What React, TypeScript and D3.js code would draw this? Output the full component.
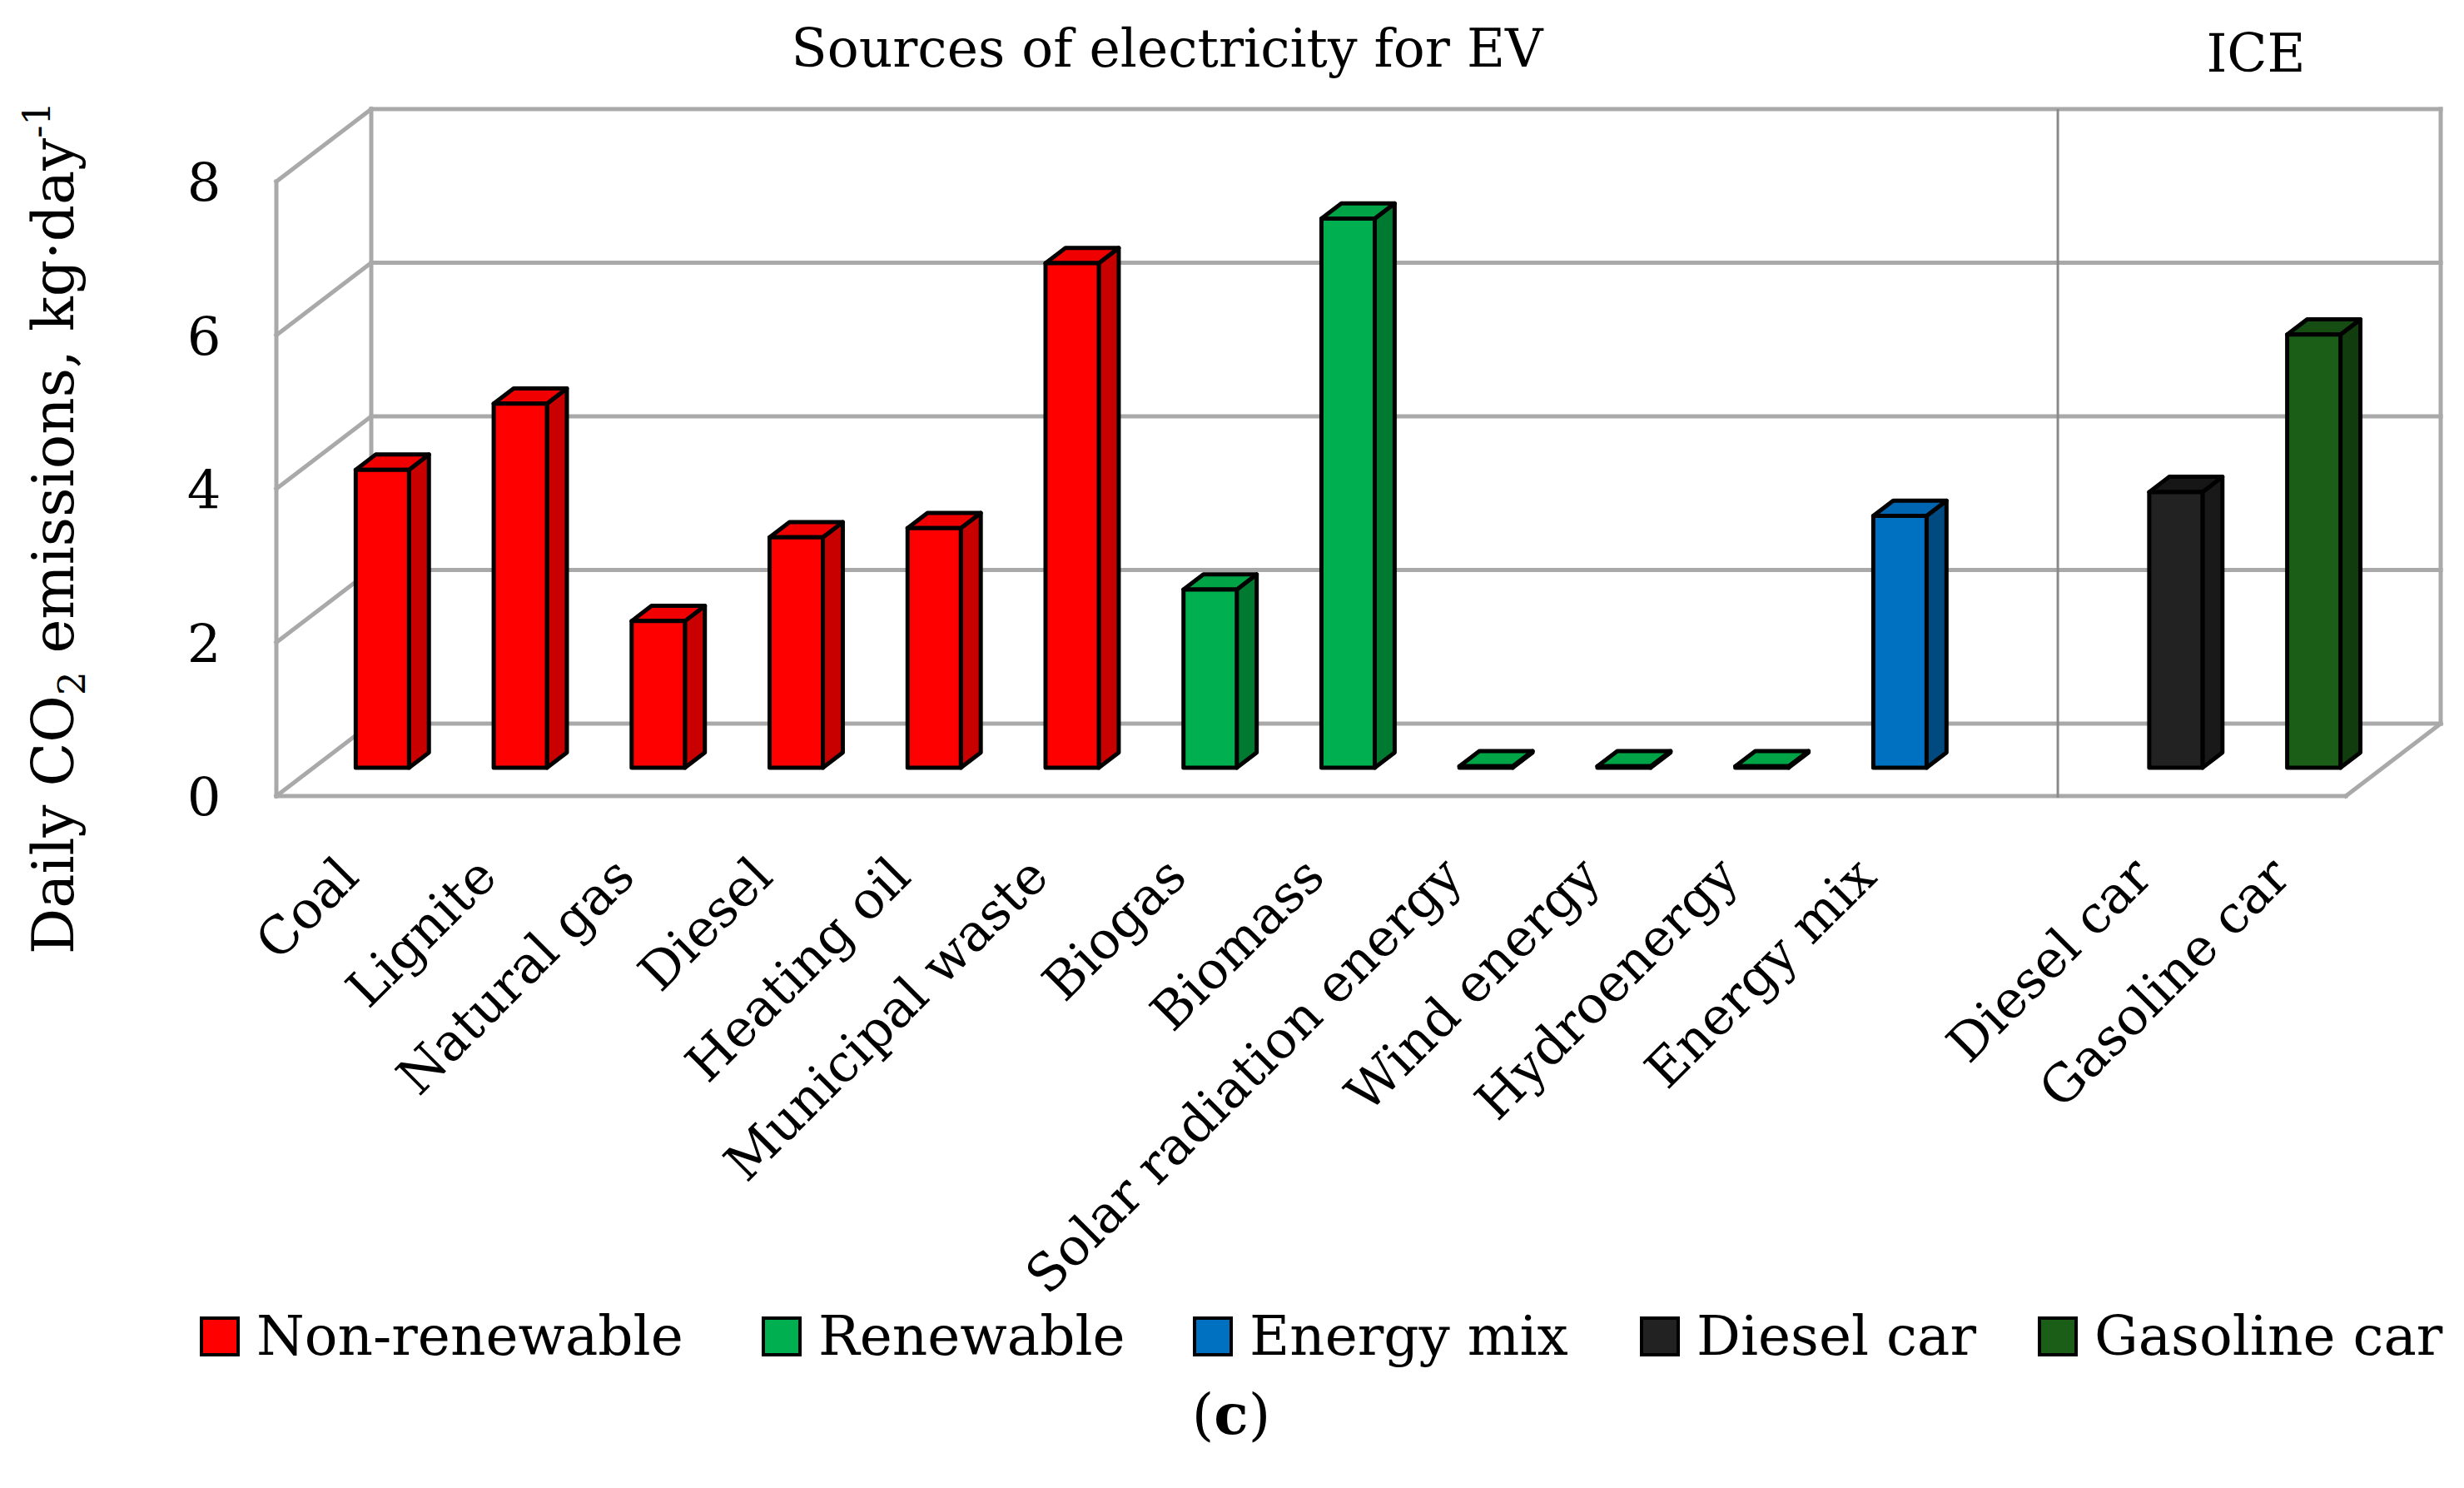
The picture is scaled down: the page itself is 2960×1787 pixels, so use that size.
import { useEffect, useRef } from "react";
import * as d3 from "d3";

// categories along the x axis ("" is the empty slot before the ICE cars)
const CATEGORIES = [
  "Coal",
  "Lignite",
  "Natural gas",
  "Diesel",
  "Heating oil",
  "Municipal waste",
  "Biogas",
  "Biomass",
  "Solar radiation energy",
  "Wind energy",
  "Hydroenergy",
  "Energy mix",
  "",
  "Diesel car",
  "Gasoline car",
];

// daily CO2 emissions, kg/day
const VALUES: (number | null)[] = [
  3.88, 4.74, 1.91, 3.0, 3.12, 6.57, 2.32, 7.15, 0.02, 0.02, 0.02, 3.28, null, 3.59, 5.64,
];

const GROUPS = [
  "Non-renewable",
  "Non-renewable",
  "Non-renewable",
  "Non-renewable",
  "Non-renewable",
  "Non-renewable",
  "Renewable",
  "Renewable",
  "Renewable",
  "Renewable",
  "Renewable",
  "Energy mix",
  "",
  "Diesel car",
  "Gasoline car",
];

const SERIES = ["Non-renewable", "Renewable", "Energy mix", "Diesel car", "Gasoline car"];
const Y_TICKS = [0, 2, 4, 6, 8];

const COLORS: Record<string, { front: string; top: string; side: string }> = {
  "Non-renewable": { front: "#ff0000", top: "#f00000", side: "#c80000" },
  Renewable: { front: "#00b050", top: "#00a446", side: "#007a30" },
  "Energy mix": { front: "#0070c0", top: "#0066b2", side: "#004a80" },
  "Diesel car": { front: "#222222", top: "#161616", side: "#191919" },
  "Gasoline car": { front: "#1b5e17", top: "#154d12", side: "#113d0e" },
};

const W = 2960;
const H = 1787;
const FONT = "'DejaVu Serif', serif";
const GRID = "#a9a9a9";

// back wall of the 3D box and the oblique depth vector (back -> front)
const wall = { left: 446, right: 2932, top: 131, bottom: 869 };
const DEPTH = { dx: -114, dy: 87 };
const BAR_Z = { back: 0.4, front: 0.61 };

// legend swatch left edges
const LEGEND_X = [242, 917, 1435, 1972, 2450];

export default function App() {
  const ref = useRef<SVGSVGElement>(null);

  useEffect(() => {
    const svg = d3.select(ref.current);
    svg.selectAll("*").remove();

    const x = d3
      .scaleBand()
      .domain(CATEGORIES)
      .range([wall.left, wall.right])
      .paddingInner(0.614)
      .paddingOuter(0.307);
    const y = d3.scaleLinear().domain([0, 8]).range([wall.bottom, wall.top]);

    const proj = (px: number, py: number, z: number): [number, number] => [
      px + DEPTH.dx * z,
      py + DEPTH.dy * z,
    ];
    const poly = (pts: [number, number][]) => pts.map((p) => p.join(",")).join(" ");

    // --- box: back wall, left wall, floor
    const grid = svg
      .append("g")
      .attr("stroke", GRID)
      .attr("stroke-width", 5)
      .attr("fill", "none")
      .attr("stroke-linecap", "square");

    Y_TICKS.forEach((t) => {
      grid
        .append("line")
        .attr("x1", wall.left)
        .attr("x2", wall.right)
        .attr("y1", y(t))
        .attr("y2", y(t));
      const [fx, fy] = proj(wall.left, y(t), 1);
      grid
        .append("line")
        .attr("x1", fx)
        .attr("y1", fy)
        .attr("x2", wall.left)
        .attr("y2", y(t));
    });
    const [flx, fty] = proj(wall.left, y(8), 1);
    const [, fby] = proj(wall.left, y(0), 1);
    const [frx] = proj(wall.right, y(0), 1);
    grid.append("line").attr("x1", wall.left).attr("x2", wall.left).attr("y1", y(8)).attr("y2", y(0));
    grid.append("line").attr("x1", wall.right).attr("x2", wall.right).attr("y1", y(8)).attr("y2", y(0));
    grid.append("line").attr("x1", flx).attr("x2", flx).attr("y1", fty).attr("y2", fby);
    grid.append("line").attr("x1", flx).attr("x2", frx).attr("y1", fby).attr("y2", fby);
    grid
      .append("line")
      .attr("x1", frx)
      .attr("y1", fby)
      .attr("x2", wall.right)
      .attr("y2", y(0));

    // divider between EV sources and ICE cars
    const divX = proj(x("")! + x.bandwidth() / 2, 0, BAR_Z.back)[0];
    svg
      .append("line")
      .attr("x1", divX)
      .attr("x2", divX)
      .attr("y1", y(8))
      .attr("y2", fby + 2)
      .attr("stroke", "#8a8a8a")
      .attr("stroke-width", 3);

    // --- bars
    const bars = svg
      .append("g")
      .attr("stroke", "#000")
      .attr("stroke-width", 5)
      .attr("stroke-linejoin", "round");

    CATEGORIES.forEach((c, i) => {
      const v = VALUES[i];
      if (v === null) return;
      const col = COLORS[GROUPS[i]];
      const x0 = x(c)!;
      const x1 = x0 + x.bandwidth();
      const yt = y(v);
      const yb = y(0);
      const zf = BAR_Z.front;
      const zb = BAR_Z.back;
      bars
        .append("polygon")
        .attr("points", poly([proj(x1, yt, zf), proj(x1, yb, zf), proj(x1, yb, zb), proj(x1, yt, zb)]))
        .attr("fill", col.side);
      bars
        .append("polygon")
        .attr("points", poly([proj(x0, yt, zf), proj(x1, yt, zf), proj(x1, yt, zb), proj(x0, yt, zb)]))
        .attr("fill", col.top);
      bars
        .append("polygon")
        .attr("points", poly([proj(x0, yt, zf), proj(x1, yt, zf), proj(x1, yb, zf), proj(x0, yb, zf)]))
        .attr("fill", col.front);
    });

    // --- y tick labels
    svg
      .append("g")
      .selectAll("text")
      .data(Y_TICKS)
      .join("text")
      .attr("x", 245)
      .attr("y", (d) => proj(wall.left, y(d), 1)[1] + 24)
      .attr("text-anchor", "middle")
      .attr("font-family", FONT)
      .attr("font-size", 64)
      .attr("fill", "#000")
      .text((d) => d);

    // --- category labels, rotated
    svg
      .append("g")
      .selectAll("text")
      .data(CATEGORIES.filter((c) => c !== ""))
      .join("text")
      .attr("transform", (d) => {
        const cx = proj(x(d)! + x.bandwidth() / 2, 0, 1)[0] + 19;
        return `translate(${cx},1056) rotate(-45)`;
      })
      .attr("text-anchor", "end")
      .attr("font-family", FONT)
      .attr("font-size", 62)
      .attr("fill", "#000")
      .text((d) => d);

    // --- y axis title
    const yt = svg
      .append("text")
      .attr("transform", "translate(88,634) rotate(-90)")
      .attr("text-anchor", "middle")
      .attr("font-family", FONT)
      .attr("font-size", 69)
      .attr("fill", "#000");
    yt.append("tspan").text("Daily CO");
    yt.append("tspan").attr("dy", 14).attr("font-size", 45).text("2");
    yt.append("tspan").attr("dy", -14).text(" emissions, kg·day");
    yt.append("tspan").attr("dy", -28).attr("font-size", 45).text("-1");

    // --- group titles
    svg
      .append("text")
      .attr("x", 1402)
      .attr("y", 80)
      .attr("text-anchor", "middle")
      .attr("font-family", FONT)
      .attr("font-size", 63)
      .text("Sources of electricity for EV");
    svg
      .append("text")
      .attr("x", 2710)
      .attr("y", 86)
      .attr("text-anchor", "middle")
      .attr("font-family", FONT)
      .attr("font-size", 63)
      .text("ICE");

    // --- legend
    const legend = svg.append("g");
    SERIES.forEach((s, i) => {
      const lx = LEGEND_X[i];
      legend
        .append("rect")
        .attr("x", lx)
        .attr("y", 1583)
        .attr("width", 44)
        .attr("height", 44)
        .attr("fill", COLORS[s].front)
        .attr("stroke", "#000")
        .attr("stroke-width", 4);
      legend
        .append("text")
        .attr("x", lx + 44 + 22)
        .attr("y", 1627)
        .attr("font-family", FONT)
        .attr("font-size", 66)
        .text(s);
    });

    // --- panel letter
    const c = svg
      .append("text")
      .attr("x", 1479)
      .attr("y", 1722)
      .attr("text-anchor", "middle")
      .attr("font-family", FONT)
      .attr("font-size", 68);
    c.append("tspan").text("(");
    c.append("tspan").attr("font-weight", "bold").text("c");
    c.append("tspan").text(")");
  }, []);

  return (
    <svg
      ref={ref}
      width={W}
      height={H}
      style={{ position: "absolute", left: 0, top: 0, background: "#fff" }}
    />
  );
}
